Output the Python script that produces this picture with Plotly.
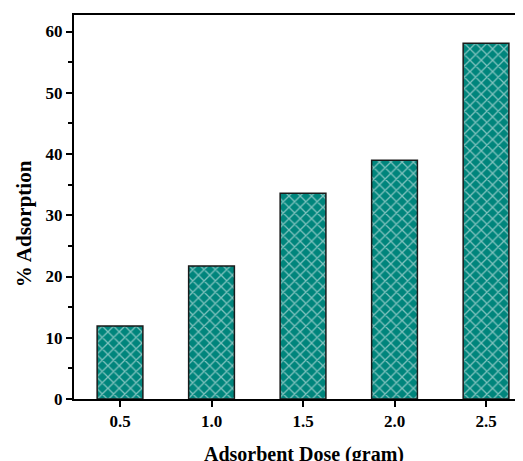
import plotly.graph_objects as go

doses = [0.5, 1.0, 1.5, 2.0, 2.5]
adsorption = [11.9, 21.7, 33.6, 39.0, 58.1]
x_tick_labels = ["0.5", "1.0", "1.5", "2.0", "2.5"]
y_ticks = [0, 10, 20, 30, 40, 50, 60]

font_family = "Liberation Serif"
teal = "#00857c"

fig = go.Figure(go.Bar(
    x=doses, y=adsorption, width=0.25,
    marker=dict(
        color=teal,
        line=dict(color="#1a1a1a", width=1.5),
        pattern=dict(shape="x", bgcolor=teal, fgcolor="white", size=8, solidity=0.3),
    ),
))

# page body has an 8px margin, so the figure is shifted by 8px
fig.update_layout(
    width=515, height=453,
    margin=dict(l=66, r=0, t=7, b=62),
    plot_bgcolor="white", paper_bgcolor="white",
    showlegend=False,
    font=dict(family=font_family, color="black"),
    annotations=[
        dict(text="<b>% Adsorption</b>", xref="paper", yref="paper", x=0, y=0.455,
             xanchor="center", yanchor="middle", xshift=-50, textangle=-90, showarrow=False,
             font=dict(size=21, family=font_family, color="black")),
        dict(text="<b>Adsorbent Dose (gram)</b>", xref="paper", yref="paper", x=0.513, y=0,
             xanchor="center", yanchor="top", yshift=-42, showarrow=False,
             font=dict(size=20, family=font_family, color="black")),
    ],
)
fig.update_xaxes(
    range=[0.2486, 2.702], tickvals=doses, ticktext=x_tick_labels,
    showline=True, linecolor="black", linewidth=2, mirror=True,
    ticks="outside", ticklen=6, tickwidth=2, tickcolor="black",
    showgrid=False, zeroline=False, automargin=False,
    tickfont=dict(size=17, family=font_family, weight="bold"),
)
fig.update_yaxes(
    range=[0, 62.7], tickvals=y_ticks,
    showline=True, linecolor="black", linewidth=2, mirror=False,
    ticks="outside", ticklen=6, tickwidth=2, tickcolor="black",
    minor=dict(ticks="outside", ticklen=4, tickwidth=2, tickcolor="black", dtick=5),
    showgrid=False, zeroline=False, automargin=False,
    tickfont=dict(size=17, family=font_family, weight="bold"),
)

fig.write_html("out.html")
